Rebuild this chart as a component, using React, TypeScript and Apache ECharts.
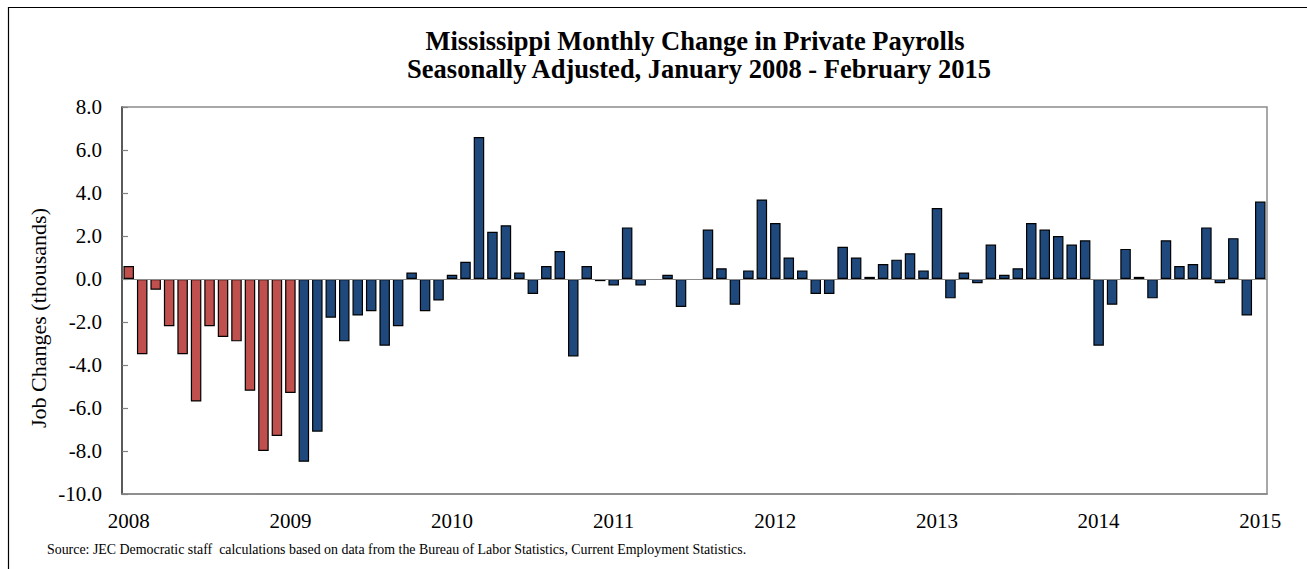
import React, { useEffect, useRef } from "react";
import * as echarts from "echarts";

const TITLE_LINE_1 = "Mississippi Monthly Change in Private Payrolls";
const TITLE_LINE_2 = "Seasonally Adjusted, January 2008 - February 2015";
const Y_NAME = "Job Changes (thousands)";
const SOURCE =
  "Source: JEC Democratic staff  calculations based on data from the Bureau of Labor Statistics, Current Employment Statistics.";

const YEARS = ["2008", "2009", "2010", "2011", "2012", "2013", "2014", "2015"];

// Monthly change in private payrolls, thousands
const v2008 = [0.6, -3.5, -0.5, -2.2, -3.5, -5.7, -2.2, -2.7, -2.9, -5.2, -8.0, -7.3];
const v2009 = [-5.3, -8.5, -7.1, -1.8, -2.9, -1.7, -1.5, -3.1, -2.2, 0.3, -1.5, -1.0];
const v2010 = [0.2, 0.8, 6.6, 2.2, 2.5, 0.3, -0.7, 0.6, 1.3, -3.6, 0.6, -0.1];
const v2011 = [-0.3, 2.4, -0.3, 0.0, 0.2, -1.3, 0.0, 2.3, 0.5, -1.2, 0.4, 3.7];
const v2012 = [2.6, 1.0, 0.4, -0.7, -0.7, 1.5, 1.0, 0.1, 0.7, 0.9, 1.2, 0.4];
const v2013 = [3.3, -0.9, 0.3, -0.2, 1.6, 0.2, 0.5, 2.6, 2.3, 2.0, 1.6, 1.8];
const v2014 = [-3.1, -1.2, 1.4, 0.1, -0.9, 1.8, 0.6, 0.7, 2.4, -0.2, 1.9, -1.7];
const v2015 = [3.6];

const yearValues = [v2008, v2009, v2010, v2011, v2012, v2013, v2014, v2015];

// first months (Jan 2008 - Jan 2009) drawn in red
const RED_MONTHS = 13;
const RED = "#C0504D";
const BLUE = "#1F497D";

const Y_TICKS = { min: -10, max: 8, interval: 2 };

const FONT = "'Liberation Serif', 'Times New Roman', serif";

export default function App() {
  const ref = useRef<HTMLDivElement>(null);

  useEffect(() => {
    if (!ref.current) return;
    const chart = echarts.init(ref.current, undefined, { renderer: "svg" });

    const categories: string[] = [];
    const values: number[] = [];
    yearValues.forEach((arr, yi) => {
      arr.forEach((v, mi) => {
        categories.push(`${YEARS[yi]}-${String(mi + 1).padStart(2, "0")}`);
        values.push(v);
      });
    });

    const data = values.map((v, i) => ({
      value: v,
      itemStyle: {
        color: i < RED_MONTHS ? RED : BLUE,
        borderWidth: v === 0 ? 0 : 1.2,
      },
    }));

    chart.setOption({
      animation: false,
      backgroundColor: "#ffffff",
      grid: {
        left: 122,
        right: 40,
        top: 107,
        bottom: 75,
        show: true,
        borderColor: "#8c8c8c",
        borderWidth: 1.5,
        backgroundColor: "transparent",
      },
      xAxis: {
        type: "category",
        data: categories,
        boundaryGap: true,
        axisLine: { show: true, onZero: false, lineStyle: { color: "#868686", width: 1.5 } },
        axisTick: { show: false },
        splitLine: { show: false },
        axisLabel: {
          interval: (i: number) => i % 12 === 0,
          formatter: (v: string) => v.slice(0, 4),
          fontSize: 21,
          fontFamily: FONT,
          color: "#000",
          margin: 16,
        },
      },
      yAxis: {
        type: "value",
        min: Y_TICKS.min,
        max: Y_TICKS.max,
        interval: Y_TICKS.interval,
        axisLine: { show: true, lineStyle: { color: "#404040", width: 1.5 } },
        axisTick: { show: true, inside: true, length: 6, lineStyle: { color: "#808080", width: 1.2 } },
        splitLine: { show: false },
        axisLabel: {
          formatter: (v: number) => v.toFixed(1),
          fontSize: 21,
          fontFamily: FONT,
          color: "#000",
          margin: 20,
        },
      },
      series: [
        {
          type: "bar",
          data,
          barCategoryGap: "22%",
          itemStyle: { borderColor: "#000", borderWidth: 1.2 },
          markLine: {
            silent: true,
            symbol: ["none", "none"],
            label: { show: false },
            lineStyle: { color: "#8a8a8a", width: 1, type: "solid" },
            data: [{ yAxis: 0 }],
          },
        },
      ],
      graphic: [
        {
          type: "rect",
          silent: true,
          shape: { x: 8.5, y: 7.5, width: 1400, height: 700 },
          style: { fill: "none", stroke: "#000", lineWidth: 1.2 },
        },
        {
          type: "text",
          x: 695,
          y: 41,
          style: {
            text: TITLE_LINE_1,
            font: `bold 26.5px ${FONT}`,
            fill: "#000",
            textAlign: "center",
            textVerticalAlign: "middle",
          },
        },
        {
          type: "text",
          x: 699,
          y: 68.5,
          style: {
            text: TITLE_LINE_2,
            font: `bold 26.5px ${FONT}`,
            fill: "#000",
            textAlign: "center",
            textVerticalAlign: "middle",
          },
        },
        {
          type: "text",
          x: 38,
          y: 318,
          rotation: Math.PI / 2,
          style: {
            text: Y_NAME,
            font: `22px ${FONT}`,
            fill: "#000",
            textAlign: "center",
            textVerticalAlign: "middle",
          },
        },
        {
          type: "text",
          x: 47,
          y: 549,
          style: {
            text: SOURCE,
            font: `13.9px ${FONT}`,
            fill: "#000",
            textAlign: "left",
            textVerticalAlign: "middle",
          },
        },
      ],
    });

    return () => chart.dispose();
  }, []);

  return (
    <div
      ref={ref}
      style={{ position: "fixed", left: 0, top: 0, width: 1307, height: 569, background: "#fff" }}
    />
  );
}
